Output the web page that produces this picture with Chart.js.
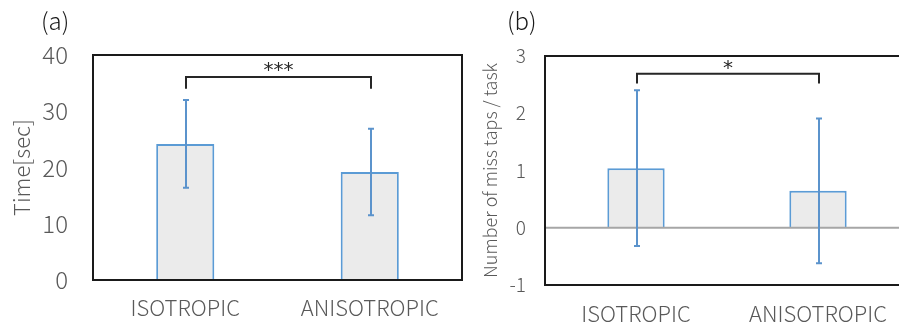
<!DOCTYPE html>
<html>
<head>
<meta charset="utf-8">
<script src="https://cdn.jsdelivr.net/npm/chart.js@4"></script>
<style>
  html, body { margin: 0; padding: 0; background: #fff; overflow: hidden; }
  #wrap { position: relative; width: 899px; height: 329px; overflow: hidden; }
  canvas { position: absolute; top: 0; }
  #chartA { left: 0; }
  #chartB { left: 470px; }
</style>
</head>
<body>
<div id="wrap">
  <canvas id="chartA" width="470" height="329"></canvas>
  <canvas id="chartB" width="450" height="329"></canvas>
</div>
<script>
const categories = ["ISOTROPIC", "ANISOTROPIC"];

// (a) task time
const timeMean = [24.2, 19.2];
const timeSd = [7.8, 7.7];
const timeTicks = [0, 10, 20, 30, 40];

// (b) miss taps per task
const missMean = [1.04, 0.645];
const missSd = [1.36, 1.265];
const missTicks = [-1, 0, 1, 2, 3];

// significance brackets: top of bracket, end of legs, label height
const sigA = { label: "***", top: 36.1, leg: 34.0, text: 37.9 };
const sigB = { label: "*", top: 2.69, leg: 2.52, text: 2.84 };

const FONT = "'Noto Sans CJK JP', 'Noto Sans', sans-serif";
const GRAY = '#595959';
const BLUE = '#5b9bd5';

const overlay = {
  id: 'overlay',
  afterDatasetsDraw(chart, args, o) {
    const { ctx, chartArea: a, scales: { x, y } } = chart;
    ctx.save();
    if (o.zeroLine) {
      const y0 = y.getPixelForValue(0);
      ctx.strokeStyle = '#a6a6a6';
      ctx.lineWidth = 2;
      ctx.beginPath();
      ctx.moveTo(a.left, y0);
      ctx.lineTo(a.right, y0);
      ctx.stroke();
    }
    // error bars
    ctx.strokeStyle = '#5b93cc';
    ctx.lineWidth = 2;
    o.means.forEach((m, i) => {
      const px = Math.round(x.getPixelForValue(i)) + 1;
      const t = y.getPixelForValue(m + o.sd[i]);
      const b = y.getPixelForValue(m - o.sd[i]);
      ctx.beginPath();
      ctx.moveTo(px, t); ctx.lineTo(px, b);
      ctx.moveTo(px - 3, t); ctx.lineTo(px + 3, t);
      ctx.moveTo(px - 3, b); ctx.lineTo(px + 3, b);
      ctx.stroke();
    });
    // bracket
    const s = o.sig;
    const x1 = Math.round(x.getPixelForValue(0)) + 1;
    const x2 = Math.round(x.getPixelForValue(1)) + 1;
    const yt = y.getPixelForValue(s.top);
    const yl = y.getPixelForValue(s.leg);
    ctx.strokeStyle = '#262626';
    ctx.lineWidth = 2;
    ctx.beginPath();
    ctx.moveTo(x1, yl); ctx.lineTo(x1, yt); ctx.lineTo(x2, yt); ctx.lineTo(x2, yl);
    ctx.stroke();
    ctx.fillStyle = '#262626';
    ctx.font = "20px 'DejaVu Sans', sans-serif";
    ctx.textAlign = 'center';
    ctx.textBaseline = 'middle';
    ctx.fillText(s.label, (x1 + x2) / 2, y.getPixelForValue(s.text) + 4);
    // plot box
    ctx.strokeStyle = '#1a1a1a';
    ctx.lineWidth = 2;
    ctx.strokeRect(a.left, a.top, a.right - a.left, a.bottom - a.top);
    // panel label
    ctx.fillStyle = '#1a1a1a';
    ctx.font = '300 24px ' + FONT;
    ctx.textAlign = 'left';
    ctx.textBaseline = 'middle';
    ctx.fillText(o.panel, o.panelX, 21);
    ctx.restore();
  }
};

function makeChart(id, cfg) {
  return new Chart(document.getElementById(id), {
    type: 'bar',
    data: {
      labels: categories,
      datasets: [{
        data: cfg.means,
        backgroundColor: '#ebebeb',
        borderColor: BLUE,
        borderWidth: 2,
        barPercentage: 0.63,
        categoryPercentage: 0.5
      }]
    },
    options: {
      responsive: false,
      animation: false,
      layout: { padding: cfg.padding },
      plugins: {
        legend: { display: false },
        tooltip: { enabled: false },
        overlay: {
          means: cfg.means, sd: cfg.sd, sig: cfg.sig,
          zeroLine: cfg.zeroLine, panel: cfg.panel, panelX: cfg.panelX
        }
      },
      scales: {
        x: {
          grid: { display: false },
          border: { display: false },
          ticks: {
            color: GRAY, font: { family: FONT, size: 22, weight: 300 },
            padding: cfg.xPad, maxRotation: 0, autoSkip: false
          },
          afterFit: s => { s.height = cfg.xHeight; }
        },
        y: {
          min: cfg.ticks[0],
          max: cfg.ticks[cfg.ticks.length - 1],
          afterBuildTicks: s => { s.ticks = cfg.ticks.map(v => ({ value: v })); },
          grid: { display: false },
          border: { display: false },
          ticks: {
            color: GRAY, font: { family: FONT, size: cfg.yFont, weight: 300 },
            padding: cfg.yPad
          },
          title: {
            display: true, text: cfg.title, color: GRAY,
            font: { family: FONT, size: cfg.titleFont, weight: 300 },
            padding: { top: cfg.titlePad, bottom: 0 }
          },
          afterFit: s => { s.width = cfg.yWidth; }
        }
      }
    },
    plugins: [overlay]
  });
}

makeChart('chartA', {
  means: timeMean, sd: timeSd, sig: sigA, ticks: timeTicks,
  title: 'Time[sec]', titleFont: 22, titlePad: 8,
  yFont: 24, yPad: 17, yWidth: 93,
  xPad: 6, xHeight: 49,
  padding: { top: 55, right: 8, left: 0, bottom: 0 },
  zeroLine: false, panel: '(a)', panelX: 41
});

makeChart('chartB', {
  means: missMean, sd: missSd, sig: sigB, ticks: missTicks,
  title: 'Number of miss taps / task', titleFont: 18, titlePad: 9,
  yFont: 19, yPad: 11, yWidth: 75,
  xPad: 7, xHeight: 44,
  padding: { top: 56, right: 11, left: 0, bottom: 0 },
  zeroLine: true, panel: '(b)', panelX: 37
});
</script>
</body>
</html>
